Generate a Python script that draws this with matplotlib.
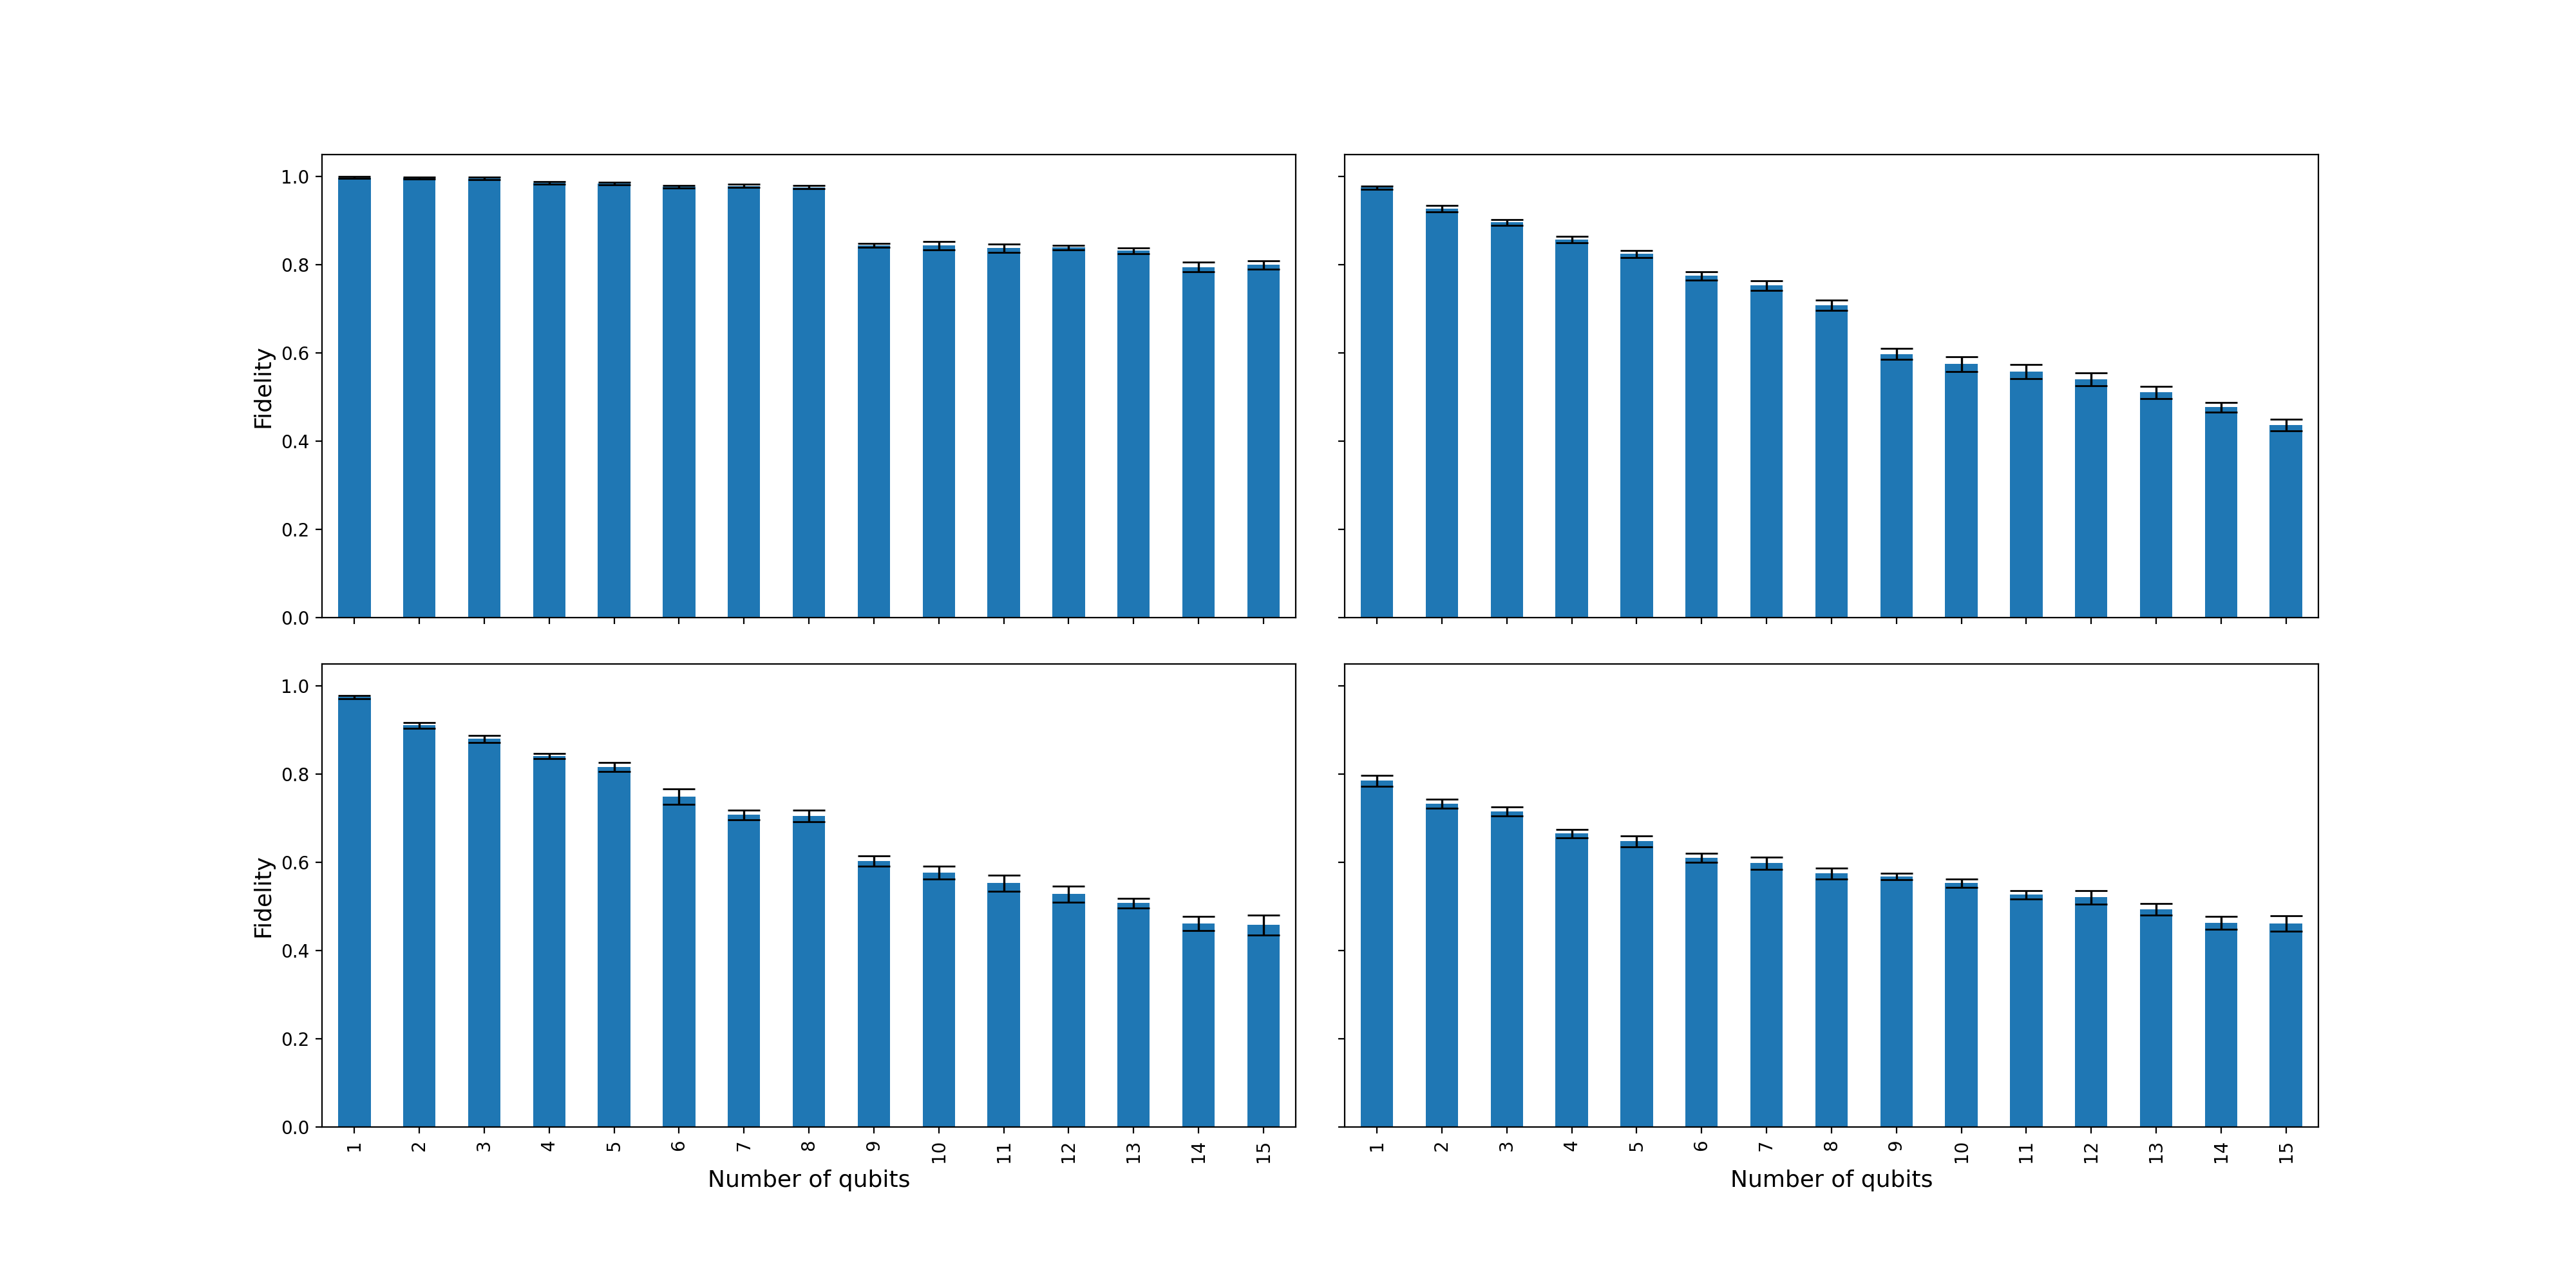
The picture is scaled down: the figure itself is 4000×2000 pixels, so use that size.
import matplotlib
matplotlib.use("Agg")
import matplotlib.pyplot as plt
import numpy as np

qubits = list(range(1, 16))

# Top-left panel
fid_tl = [0.998, 0.997, 0.996, 0.986, 0.984, 0.977, 0.979, 0.976,
          0.844, 0.844, 0.838, 0.839, 0.832, 0.795, 0.800]
err_tl = [0.002, 0.002, 0.003, 0.003, 0.003, 0.003, 0.0037, 0.0037,
          0.005, 0.0095, 0.0095, 0.005, 0.0066, 0.011, 0.0095]

# Top-right panel
fid_tr = [0.975, 0.9275, 0.896, 0.857, 0.8246, 0.775, 0.753, 0.7085,
          0.598, 0.575, 0.558, 0.5406, 0.5107, 0.477, 0.437]
err_tr = [0.004, 0.0073, 0.0066, 0.0073, 0.008, 0.0095, 0.011, 0.0117,
          0.0124, 0.0168, 0.016, 0.0146, 0.0139, 0.011, 0.013]

# Bottom-left panel
fid_bl = [0.975, 0.9107, 0.880, 0.8414, 0.8165, 0.7494, 0.7078, 0.7056,
          0.6034, 0.577, 0.553, 0.528, 0.5078, 0.4618, 0.4582]
err_bl = [0.0037, 0.0066, 0.008, 0.0058, 0.0102, 0.0175, 0.011, 0.013,
          0.0117, 0.0146, 0.018, 0.018, 0.011, 0.016, 0.0226]

# Bottom-right panel
fid_br = [0.7852, 0.7333, 0.7158, 0.6655, 0.648, 0.6107, 0.5983, 0.575,
          0.5684, 0.553, 0.5268, 0.521, 0.494, 0.4633, 0.4618]
err_br = [0.0124, 0.0102, 0.0102, 0.0095, 0.0124, 0.0102, 0.0139, 0.0124,
          0.0073, 0.0095, 0.0095, 0.0153, 0.013, 0.0146, 0.0175]

panels = [[(fid_tl, err_tl), (fid_tr, err_tr)],
          [(fid_bl, err_bl), (fid_br, err_br)]]

fig, axes = plt.subplots(2, 2, figsize=(20, 10), dpi=200, sharex=True, sharey=True)
fig.subplots_adjust(left=0.125, right=0.9, top=0.88, bottom=0.125, wspace=0.05, hspace=0.1)

x = np.arange(len(qubits))
for i in range(2):
    for j in range(2):
        ax = axes[i][j]
        vals, errs = panels[i][j]
        ax.bar(x, vals, width=0.5, color='#1f77b4', yerr=errs, capsize=9,
               error_kw=dict(ecolor='black', elinewidth=1.2, capthick=1.0))
        ax.set_xlim(-0.5, len(qubits) - 0.5)
        ax.set_xticks(x)
        ax.set_xticklabels([str(q) for q in qubits], rotation=90)
        ax.tick_params(labelsize=10)
        if j == 0:
            ax.set_ylabel("Fidelity", fontsize=13)
        if i == 1:
            ax.set_xlabel("Number of qubits", fontsize=13)

axes[0][0].set_ylim(0, 1.05)
fig.savefig("out.png", dpi=200)
